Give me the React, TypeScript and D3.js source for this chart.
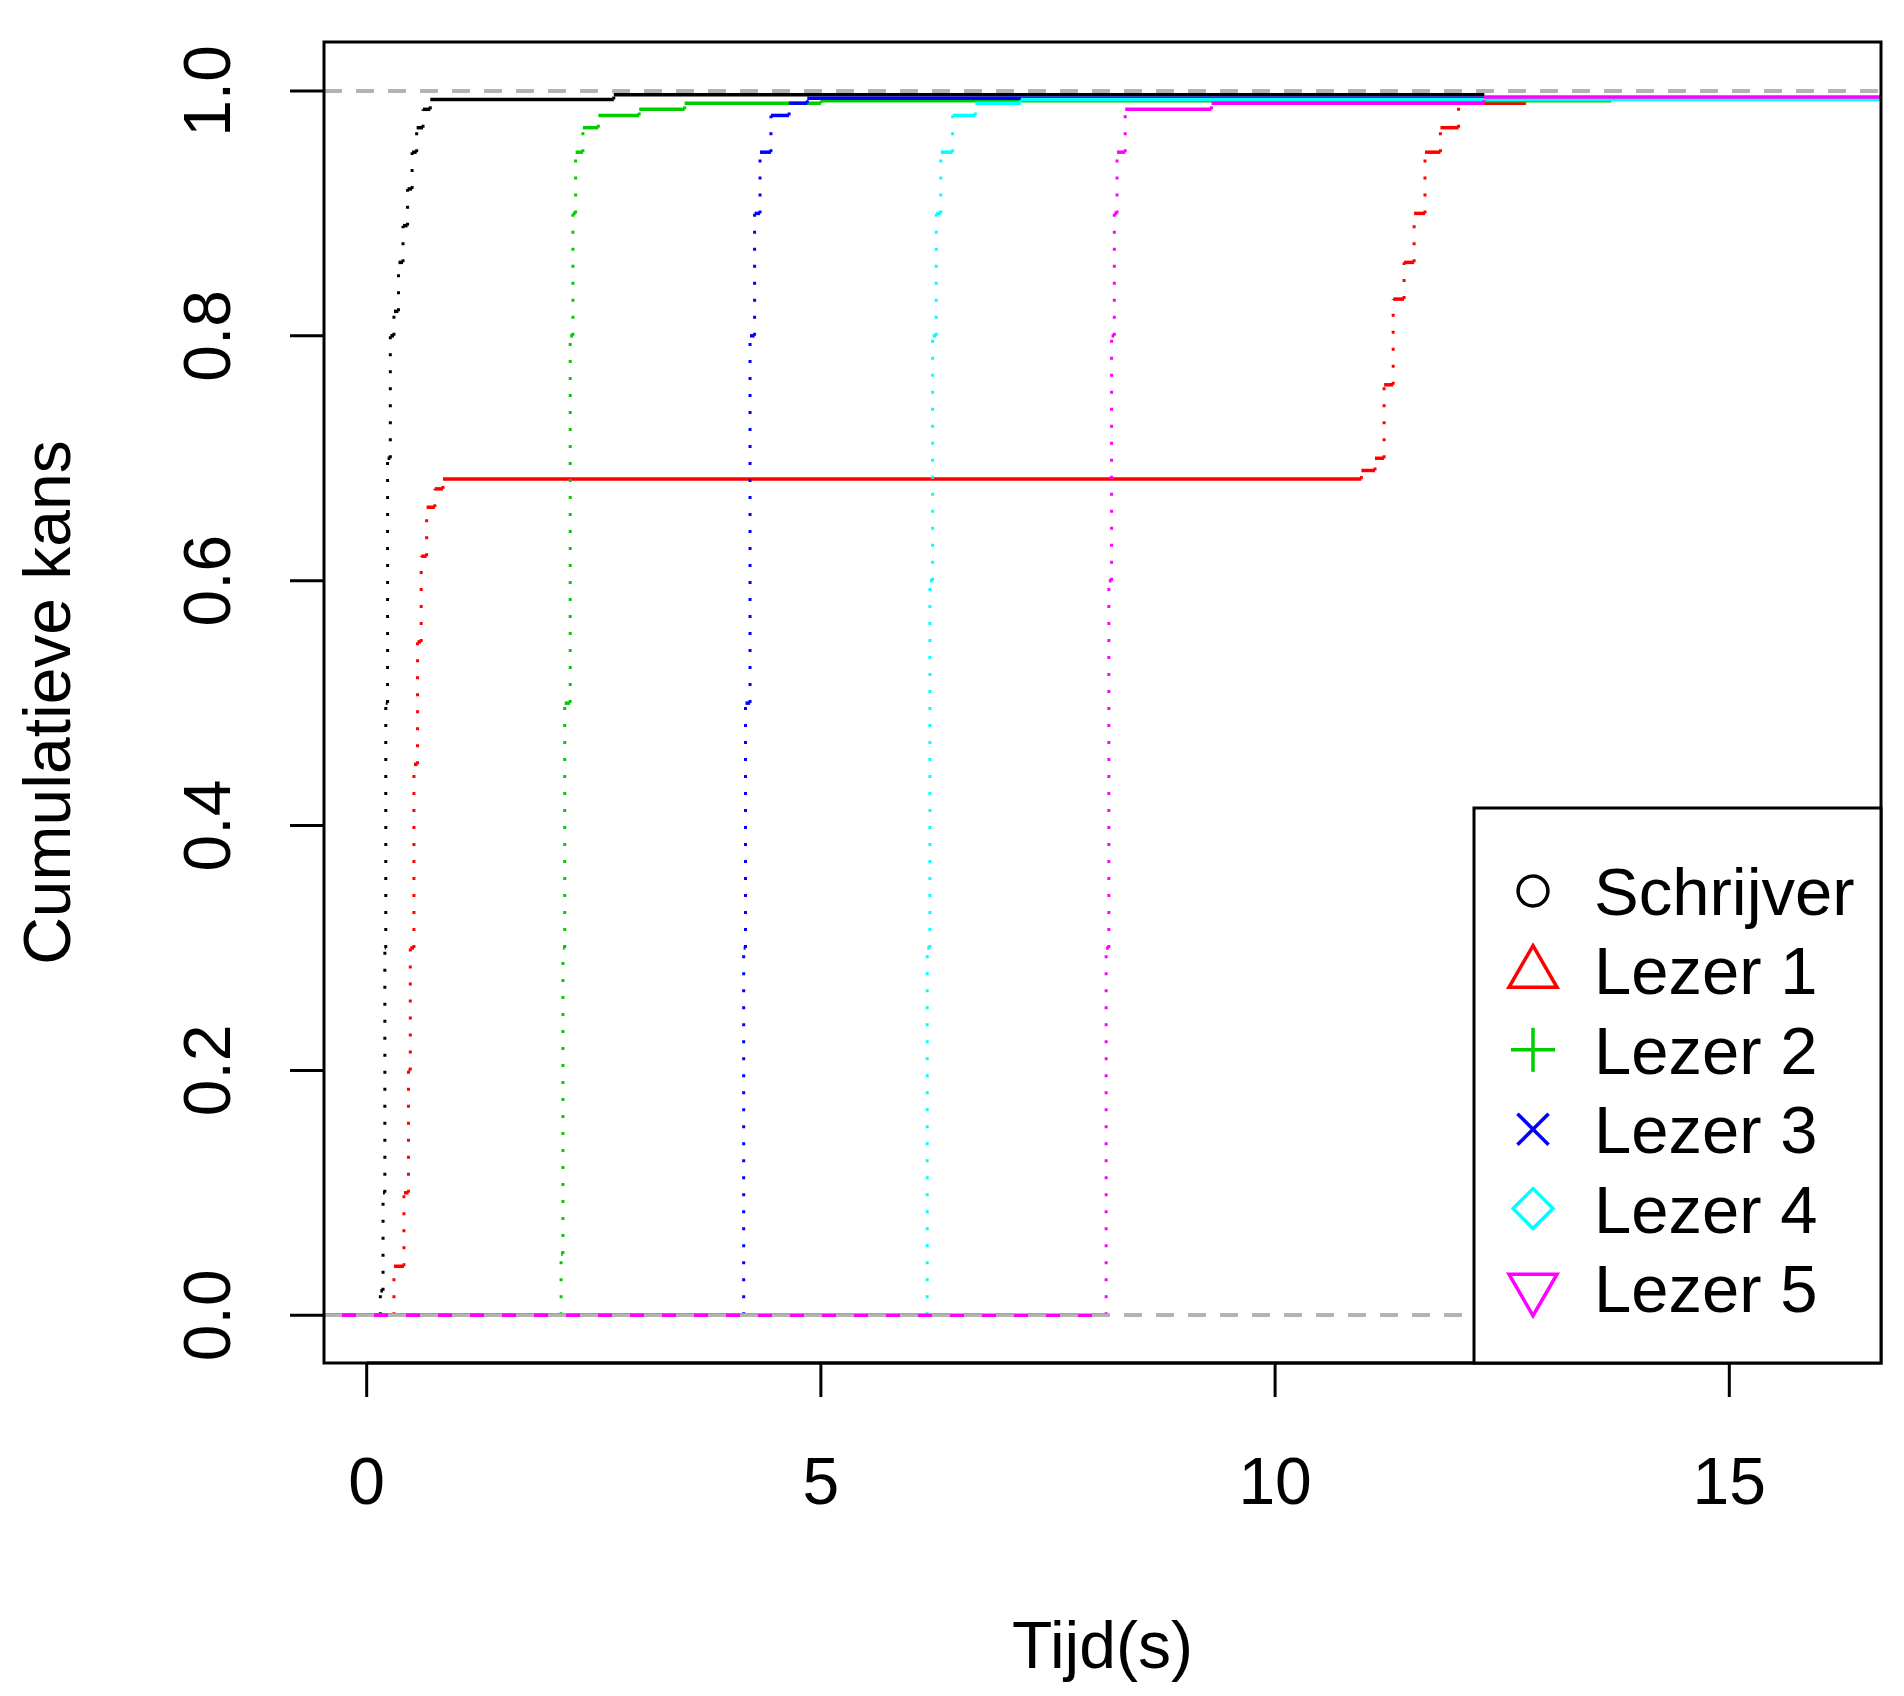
import { useRef, useEffect } from "react";
import * as d3 from "d3";

type Pt = [number, number];

const schrijver: Pt[] = [[0.12, 0], [0.15, 0.02], [0.18, 0.1], [0.2, 0.3], [0.21, 0.5], [0.23, 0.7], [0.26, 0.8], [0.3, 0.82], [0.35, 0.86], [0.4, 0.89], [0.45, 0.92], [0.5, 0.95], [0.55, 0.97], [0.62, 0.985], [0.7, 0.993], [2.72, 0.997], [12.3, 0.997]];
const lezer1: Pt[] = [[0.15, 0], [0.3, 0.04], [0.41, 0.1], [0.46, 0.2], [0.48, 0.3], [0.52, 0.45], [0.56, 0.55], [0.6, 0.62], [0.66, 0.66], [0.75, 0.675], [0.84, 0.683], [10.95, 0.69], [11.1, 0.7], [11.2, 0.76], [11.3, 0.83], [11.42, 0.86], [11.53, 0.9], [11.65, 0.95], [11.82, 0.97], [12.02, 0.99], [12.76, 0.99]];
const lezer2: Pt[] = [[2.12, 0], [2.14, 0.05], [2.16, 0.3], [2.18, 0.5], [2.24, 0.8], [2.27, 0.9], [2.3, 0.95], [2.38, 0.97], [2.55, 0.98], [3.0, 0.985], [3.5, 0.99], [5.0, 0.992], [13.7, 0.992]];
const lezer3: Pt[] = [[4.12, 0], [4.15, 0.3], [4.17, 0.5], [4.22, 0.8], [4.27, 0.9], [4.33, 0.95], [4.45, 0.98], [4.65, 0.99], [4.85, 0.994], [13.0, 0.994]];
const lezer4: Pt[] = [[6.13, 0], [6.17, 0.3], [6.2, 0.6], [6.23, 0.8], [6.27, 0.9], [6.32, 0.95], [6.45, 0.98], [6.7, 0.99], [7.2, 0.993], [16.7, 0.993]];
const lezer5: Pt[] = [[8.1, 0], [8.14, 0.3], [8.17, 0.6], [8.2, 0.8], [8.23, 0.9], [8.26, 0.95], [8.35, 0.985], [9.3, 0.99], [12.3, 0.995], [16.7, 0.995]];

const seriesNames = ["Schrijver", "Lezer 1", "Lezer 2", "Lezer 3", "Lezer 4", "Lezer 5"];
const seriesData = [schrijver, lezer1, lezer2, lezer3, lezer4, lezer5];
const seriesColors = ["#000000", "#ff0000", "#00cd00", "#0000ff", "#00ffff", "#ff00ff"];
const seriesSymbols = ["circle", "triangle", "plus", "cross", "diamond", "triangleDown"];
const xTicks = [0, 5, 10, 15];
const yTicks = [0, 0.2, 0.4, 0.6, 0.8, 1.0];

export default function App() {
  const svgRef = useRef<SVGSVGElement>(null);

  useEffect(() => {
    document.body.style.margin = "0";
    if (!svgRef.current) return;
    const svg = d3.select(svgRef.current);
    svg.selectAll("*").remove();

    const W = 1904, H = 1696;
    const L = 324, R = 1881, T = 42, B = 1363;
    const font = "Liberation Sans, Arial, sans-serif";
    const x = d3.scaleLinear().domain([-0.47, 16.67]).range([L, R]);
    const y = d3.scaleLinear().domain([-0.039, 1.04]).range([B, T]);

    svg.attr("width", W).attr("height", H).attr("viewBox", `0 0 ${W} ${H}`);
    svg.append("rect").attr("width", W).attr("height", H).attr("fill", "#fff");

    const clip = svg.append("defs").append("clipPath").attr("id", "pc");
    clip.append("rect").attr("x", L).attr("y", T).attr("width", R - L).attr("height", B - T);
    const g = svg.append("g").attr("clip-path", "url(#pc)");

    seriesData.forEach((pts, si) => {
      const col = seriesColors[si];
      // flat start at 0 from the left edge
      g.append("line")
        .attr("x1", x(-0.47)).attr("x2", x(pts[0][0]))
        .attr("y1", y(0)).attr("y2", y(0))
        .attr("stroke", col).attr("stroke-width", 3.5);
      for (let i = 0; i < pts.length - 1; i++) {
        const [x0, y0] = pts[i];
        const [x1, y1] = pts[i + 1];
        g.append("line")
          .attr("x1", x(x0)).attr("x2", x(x1))
          .attr("y1", y(y0)).attr("y2", y(y0))
          .attr("stroke", col).attr("stroke-width", 3.5);
        g.append("line")
          .attr("x1", x(x1)).attr("x2", x(x1))
          .attr("y1", y(y0)).attr("y2", y(y1))
          .attr("stroke", col).attr("stroke-width", 3)
          .attr("stroke-dasharray", "3 14");
      }
      // grey reference lines at 0 and 1
      [0, 1].forEach((v) => {
        g.append("line")
          .attr("x1", L).attr("x2", R)
          .attr("y1", y(v)).attr("y2", y(v))
          .attr("stroke", "#b3b3b3").attr("stroke-width", 3.5)
          .attr("stroke-dasharray", "18 14");
      });
    });

    // box
    svg.append("rect").attr("x", L).attr("y", T).attr("width", R - L).attr("height", B - T)
      .attr("fill", "none").attr("stroke", "#000").attr("stroke-width", 3);

    // x axis
    svg.append("line").attr("x1", x(0)).attr("x2", x(15)).attr("y1", B).attr("y2", B)
      .attr("stroke", "#000").attr("stroke-width", 3);
    xTicks.forEach((t) => {
      svg.append("line").attr("x1", x(t)).attr("x2", x(t)).attr("y1", B).attr("y2", B + 34)
        .attr("stroke", "#000").attr("stroke-width", 3);
      svg.append("text").attr("x", x(t)).attr("y", 1504).attr("text-anchor", "middle")
        .attr("font-family", font).attr("font-size", 66).text(String(t));
    });

    // y axis
    yTicks.forEach((t) => {
      svg.append("line").attr("x1", L - 34).attr("x2", L).attr("y1", y(t)).attr("y2", y(t))
        .attr("stroke", "#000").attr("stroke-width", 3);
      svg.append("text").attr("transform", `translate(230,${y(t)}) rotate(-90)`)
        .attr("text-anchor", "middle").attr("font-family", font).attr("font-size", 66)
        .text(t.toFixed(1));
    });

    svg.append("text").attr("x", (L + R) / 2).attr("y", 1668).attr("text-anchor", "middle")
      .attr("font-family", font).attr("font-size", 66).text("Tijd(s)");
    svg.append("text").attr("transform", `translate(70,${(T + B) / 2}) rotate(-90)`)
      .attr("text-anchor", "middle").attr("font-family", font).attr("font-size", 66)
      .text("Cumulatieve kans");

    // legend
    const lg = svg.append("g");
    lg.append("rect").attr("x", 1474).attr("y", 808).attr("width", R - 1474).attr("height", B - 808)
      .attr("fill", "#fff").attr("stroke", "#000").attr("stroke-width", 3);
    const sym: Record<string, d3.SymbolType> = {
      circle: d3.symbolCircle, triangle: d3.symbolTriangle, diamond: d3.symbolSquare, triangleDown: d3.symbolTriangle,
    };
    seriesNames.forEach((name, i) => {
      const cy = 891 + i * 79.4;
      const col = seriesColors[i];
      const s = seriesSymbols[i];
      const sg = lg.append("g").attr("transform", `translate(1533,${cy})`);
      if (s === "plus" || s === "cross") {
        const gg = sg.append("g").attr("transform", s === "cross" ? "rotate(45)" : "");
        const rr = 22;
        gg.append("line").attr("x1", -rr).attr("x2", rr).attr("stroke", col).attr("stroke-width", 3.5);
        gg.append("line").attr("y1", -rr).attr("y2", rr).attr("stroke", col).attr("stroke-width", 3.5);
      } else {
        const size = s === "circle" ? 700 : s === "diamond" ? 800 : 1000;
        const tf = s === "triangleDown" ? "rotate(180)" : s === "triangle" ? "translate(0,3)" : s === "diamond" ? "rotate(45)" : "";
        sg.append("path")
          .attr("d", d3.symbol(sym[s], size)())
          .attr("transform", tf)
          .attr("fill", "none").attr("stroke", col).attr("stroke-width", 3.5);
      }
      lg.append("text").attr("x", 1594).attr("y", cy + 24).attr("font-family", font)
        .attr("font-size", 67).text(name);
    });
  }, []);

  return <svg ref={svgRef} style={{ display: "block" }} />;
}
